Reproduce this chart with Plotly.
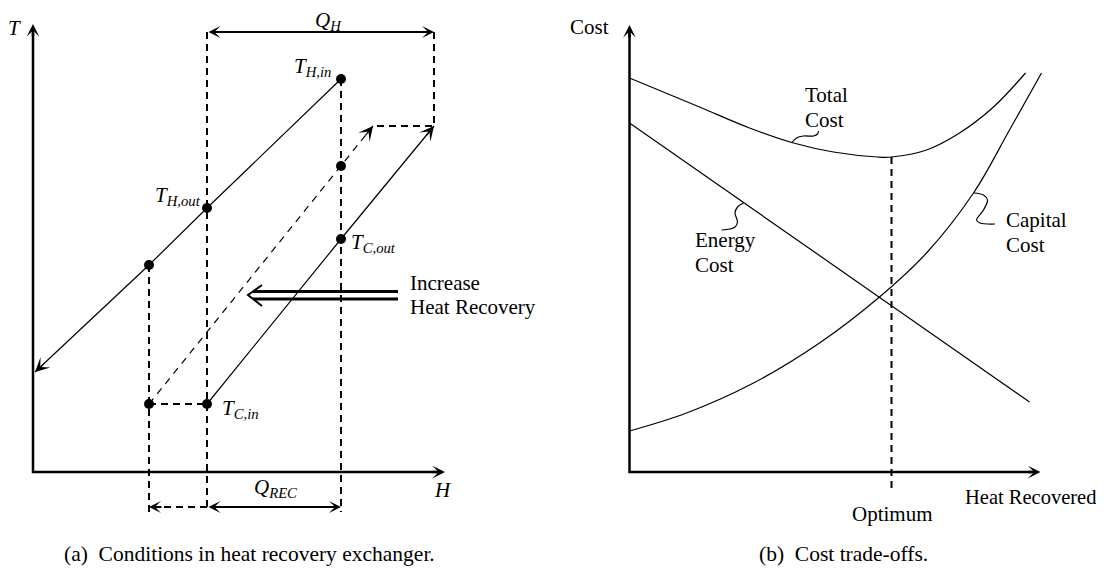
import math
import plotly.graph_objects as go

# ---- panel (a): conditions in the heat recovery exchanger, (H, T) from the axis origin
hot_H = [308, 174, 116, 2]
hot_T = [393, 264, 207, 100]
cold_H = [174, 308, 401]
cold_T = [68, 233, 346]
cold_new_H = [116, 308, 340]
cold_new_T = [68, 306, 346]
QH_level = 440
QREC_level = -35
guide_bottom = -40
T_axis_top = 448
H_axis_end = 412

# ---- panel (b): cost trade-offs, (heat recovered, cost) from the axis origin
heat_total = [0, 70, 120, 164, 204, 248, 262, 297, 330, 364, 396]
cost_total = [394, 365, 344, 329, 320, 315, 315, 322, 339, 365, 399]
heat_energy = [0, 400]
cost_energy = [349, 70]
heat_capital = [0, 57, 124, 190, 250, 297, 344, 380, 412]
cost_capital = [41, 59, 89, 129, 175, 219, 279, 342, 399]
heat_optimum = 262
cost_optimum = 315
cost_axis_top = 447
heat_axis_end = 411

lead_total = ([162, 167, 174, 184, 188, 189], [329, 334, 336, 336, 338, 341])
lead_energy = ([114, 108, 105.5, 108, 105.5, 100.5, 92], [269, 265, 259, 250, 245, 243, 242])
lead_capital = ([344, 354, 358, 354, 347, 350.5, 365.5], [279, 277, 272, 262, 252, 249, 248])

FONT = "Liberation Serif"
BLACK = "black"

fig = go.Figure()


def line(x, y, xa="x", width=1.2, dash="solid", shape="linear"):
    fig.add_trace(go.Scatter(
        x=x, y=y, xaxis=xa, yaxis="y", mode="lines",
        line=dict(color=BLACK, width=width, dash=dash, shape=shape),
        hoverinfo="skip", showlegend=False,
    ))


def arrow(tail, head, xa="x", width=1.0, size=2.2, both=False):
    fig.add_annotation(
        x=head[0], y=head[1], ax=tail[0], ay=tail[1],
        xref=xa, yref="y", axref=xa, ayref="y", text="",
        showarrow=True, arrowhead=3, arrowsize=size, arrowwidth=width,
        arrowcolor=BLACK, arrowside="end+start" if both else "end",
        startarrowhead=3, startarrowsize=size,
    )


def head_only(p_from, p_to, xa="x", width=1.0, size=2.2, length=14):
    dx, dy = p_to[0] - p_from[0], p_to[1] - p_from[1]
    d = math.hypot(dx, dy)
    tail = (p_to[0] - dx / d * length, p_to[1] - dy / d * length)
    arrow(tail, p_to, xa, width, size)


def label(x, y, text, xa="x", xanchor="center", size=21):
    fig.add_annotation(
        x=x, y=y, xref=xa, yref="y", text=text, showarrow=False,
        xanchor=xanchor, yanchor="middle",
        font=dict(family=FONT, size=size, color=BLACK),
    )


# ---------------- panel (a)
line([0, 0, H_axis_end - 6], [T_axis_top - 6, 0, 0], width=2.5)
head_only((0, 0), (0, T_axis_top), width=2.5, size=0.85)
head_only((0, 0), (H_axis_end, 0), width=2.5, size=0.85)

# dashed guides
dash_v = "7px,5px"
line([cold_H[0], cold_H[0]], [QH_level, guide_bottom], width=2, dash=dash_v)
line([hot_H[2], hot_H[2]], [hot_T[2], guide_bottom], width=2, dash=dash_v)
line([hot_H[0], hot_H[0]], [hot_T[0], guide_bottom], width=2, dash=dash_v)
line([cold_H[2], cold_H[2], cold_new_H[2]], [QH_level, cold_T[2], cold_new_T[2]], width=2, dash=dash_v)
line([cold_new_H[0], cold_H[0]], [cold_new_T[0], cold_T[0]], width=2, dash=dash_v)
line([cold_H[0], cold_new_H[0] + 6], [QREC_level, QREC_level], width=2, dash=dash_v)
head_only((cold_H[0], QREC_level), (cold_new_H[0], QREC_level), width=2, size=1.0)

# streams
line(hot_H, hot_T, width=1.2)
head_only((hot_H[-2], hot_T[-2]), (hot_H[-1], hot_T[-1]), width=1.2, size=2.0)
line(cold_H, cold_T, width=1.2)
head_only((cold_H[-2], cold_T[-2]), (cold_H[-1], cold_T[-1]), width=1.2, size=2.0)
line(cold_new_H, cold_new_T, width=1.2, dash="7px,6px")
head_only((cold_new_H[-2], cold_new_T[-2]), (cold_new_H[-1], cold_new_T[-1]), width=1.2, size=2.0)

fig.add_trace(go.Scatter(
    x=hot_H[:3] + cold_H[:2] + cold_new_H[:2],
    y=hot_T[:3] + cold_T[:2] + cold_new_T[:2],
    mode="markers", marker=dict(color=BLACK, size=10),
    hoverinfo="skip", showlegend=False,
))

# duty arrows
arrow((cold_H[0], QH_level), (cold_H[2], QH_level), width=2, size=1.0, both=True)
arrow((cold_H[0], QREC_level), (hot_H[0], QREC_level), width=2, size=1.0, both=True)

# "increase heat recovery" double arrow
line([365, 220], [180.5, 180.5], width=3)
line([365, 220], [173, 173], width=3)
line([229, 215, 229], [187, 177, 166], width=2)

label(-10, 444, "<i>T</i>", xanchor="right")
label(295, 451, "<i>Q<sub>H</sub></i>")
label(300, 405, "<i>T<sub>H,in</sub></i>", xanchor="right")
label(170, 276, "<i>T<sub>H,out</sub></i>", xanchor="right")
label(316, 229, "<i>T<sub>C,out</sub></i>", xanchor="left")
label(187, 63, "<i>T<sub>C,in</sub></i>", xanchor="left")
label(242, -16, "<i>Q<sub>REC</sub></i>")
label(410, -18, "<i>H</i>")
label(375, 189, "Increase", xanchor="left")
label(375, 165, "Heat Recovery", xanchor="left")
label(29, -82, "(a)&nbsp; Conditions in heat recovery exchanger.", xanchor="left", size=21.5)

# ---------------- panel (b)
line([0, 0, heat_axis_end - 6], [cost_axis_top - 6, 0, 0], xa="x2", width=2.5)
head_only((0, 0), (0, cost_axis_top), xa="x2", width=2.5, size=0.85)
head_only((0, 0), (heat_axis_end, 0), xa="x2", width=2.5, size=0.85)

line(heat_total, cost_total, xa="x2", width=1.2, shape="spline")
line(heat_energy, cost_energy, xa="x2", width=1.2)
line(heat_capital, cost_capital, xa="x2", width=1.2, shape="spline")
line([heat_optimum, heat_optimum], [cost_optimum, -20], xa="x2", width=2, dash=dash_v)

for lx, ly in (lead_total, lead_energy, lead_capital):
    line(lx, ly, xa="x2", width=1.2, shape="spline")

label(-19, 445, "Cost", xa="x2", xanchor="right")
label(173, 377, "Total", xa="x2", xanchor="left")
label(173, 352, "Cost", xa="x2", xanchor="left")
label(63, 232, "Energy", xa="x2", xanchor="left")
label(63, 207, "Cost", xa="x2", xanchor="left")
label(374, 252, "Capital", xa="x2", xanchor="left")
label(374, 227, "Cost", xa="x2", xanchor="left")
label(263, -42, "Optimum", xa="x2")
label(468, -25, "Heat Recovered", xa="x2", xanchor="right", size=20.5)
label(127, -82, "(b)&nbsp; Cost trade-offs.", xa="x2", xanchor="left", size=21.5)

# the page body adds an 8 px margin, so the figure is 8 px smaller and the
# ranges are shifted to keep 1 unit = 1 px from the reference origin
fig.update_layout(
    width=1096, height=561,
    margin=dict(l=0, r=0, t=0, b=0),
    paper_bgcolor="white", plot_bgcolor="white",
    xaxis=dict(range=[-25, 1071], visible=False, fixedrange=True),
    xaxis2=dict(range=[-621.5, 474.5], visible=False, overlaying="x", fixedrange=True),
    yaxis=dict(range=[-97, 464], visible=False, fixedrange=True),
    showlegend=False,
)

fig.write_html("out.html")
